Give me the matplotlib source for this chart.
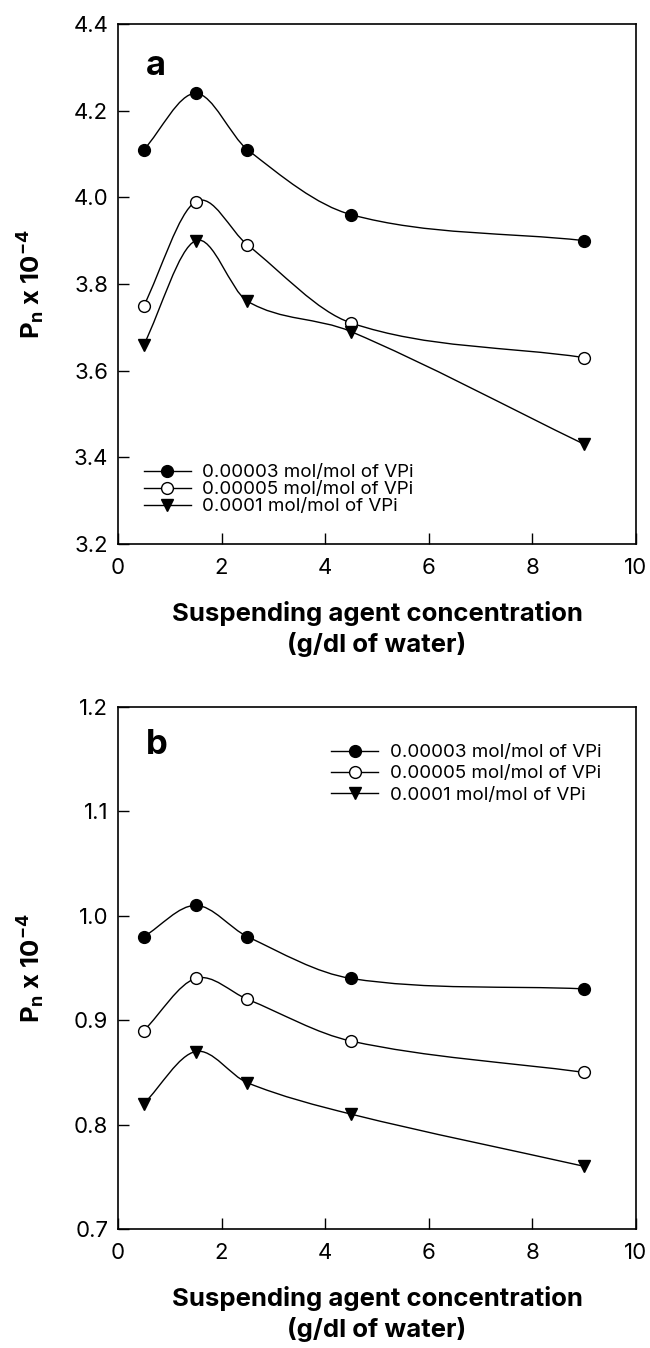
import numpy as np
import matplotlib
matplotlib.use("Agg")
import matplotlib.pyplot as plt
from matplotlib.path import Path
from matplotlib.patches import PathPatch

plt.rcParams['font.family'] = ['Inter', 'DejaVu Sans']
plt.rcParams['mathtext.default'] = 'regular'

# concentration of suspending agent (g/dl of water)
conc = [0.5, 1.5, 2.5, 4.5, 9.0]
labels = ['0.00003 mol/mol of VPi', '0.00005 mol/mol of VPi', '0.0001 mol/mol of VPi']

# panel a
pn_a_3e5 = [4.11, 4.24, 4.11, 3.96, 3.90]
pn_a_5e5 = [3.75, 3.99, 3.89, 3.71, 3.63]
pn_a_1e4 = [3.66, 3.90, 3.76, 3.69, 3.43]
# panel b
pn_b_3e5 = [0.98, 1.01, 0.98, 0.94, 0.93]
pn_b_5e5 = [0.89, 0.94, 0.92, 0.88, 0.85]
pn_b_1e4 = [0.82, 0.87, 0.84, 0.81, 0.76]

yticks_a = [3.2, 3.4, 3.6, 3.8, 4.0, 4.2, 4.4]
yticks_b = [0.7, 0.8, 0.9, 1.0, 1.1, 1.2]
xticks = [0, 2, 4, 6, 8, 10]

styles = [dict(marker='o', mfc='black'),
          dict(marker='o', mfc='white'),
          dict(marker='v', mfc='black')]


def smooth_path(x, y):
    # cubic hermite segments through the points, drawn as bezier curves
    x = np.asarray(x, float); y = np.asarray(y, float)
    n = len(x)
    m = np.zeros(n)
    for i in range(n):
        if i == 0:
            m[i] = (y[1] - y[0]) / (x[1] - x[0])
        elif i == n - 1:
            m[i] = (y[-1] - y[-2]) / (x[-1] - x[-2])
        else:
            m[i] = (y[i + 1] - y[i - 1]) / (x[i + 1] - x[i - 1])
    verts = [(x[0], y[0])]
    codes = [Path.MOVETO]
    for i in range(n - 1):
        h = x[i + 1] - x[i]
        verts += [(x[i] + h / 3, y[i] + m[i] * h / 3),
                  (x[i + 1] - h / 3, y[i + 1] - m[i + 1] * h / 3),
                  (x[i + 1], y[i + 1])]
        codes += [Path.CURVE4] * 3
    return Path(verts, codes)


fig = plt.figure(figsize=(6.5, 13.48), dpi=100)
ax1 = fig.add_axes([0.1815, 0.5965, 0.797, 0.3857])
ax2 = fig.add_axes([0.1815, 0.0883, 0.797, 0.3872])

panels = [(ax1, [pn_a_3e5, pn_a_5e5, pn_a_1e4], yticks_a, 'a', (0.05, 0.055), 0.0, 0.92),
          (ax2, [pn_b_3e5, pn_b_5e5, pn_b_1e4], yticks_b, 'b', (0.412, 0.815), 0.22, 0.927)]

for ax, series, yt, letter, lpos, lspace, ly in panels:
    for vals, st, lab in zip(series, styles, labels):
        ax.add_patch(PathPatch(smooth_path(conc, vals), fc='none', ec='black', lw=1.0, zorder=2))
        ax.plot(conc, vals, ls='none', marker=st['marker'], mfc=st['mfc'], mec='black',
                mew=1.0, ms=8.5, zorder=3)
        ax.plot([], [], color='black', lw=1.0, marker=st['marker'], mfc=st['mfc'],
                mec='black', mew=1.0, ms=8.5, label=lab)
    ax.set_xlim(0, 10)
    ax.set_ylim(yt[0], yt[-1])
    ax.set_xticks(xticks)
    ax.set_yticks(yt)
    ax.set_yticklabels(['%.1f' % v for v in yt])
    ax.tick_params(direction='in', length=8, width=1.0, labelsize=16)
    ax.tick_params(axis='x', pad=10)
    ax.tick_params(axis='y', pad=7)
    for s in ax.spines.values():
        s.set_linewidth(1.2)
    ax.set_xlabel('Suspending agent concentration\n(g/dl of water)', fontsize=18.5,
                  fontweight='bold', labelpad=17, linespacing=1.28)
    ax.set_ylabel(r'P$_{n}$ x 10$^{-4}$', fontsize=18.5, fontweight='bold', labelpad=19)
    ax.text(0.054, ly, letter, transform=ax.transAxes, fontsize=25, fontweight='bold',
            va='center', ha='left')
    ax.legend(loc='lower left', bbox_to_anchor=lpos, frameon=False, fontsize=13.5,
              handlelength=2.5, handletextpad=0.6, labelspacing=lspace, borderpad=0,
              borderaxespad=0)

fig.savefig('out.png', dpi=100)
